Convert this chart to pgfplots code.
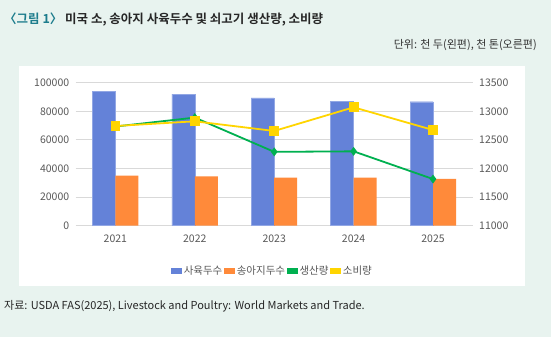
\documentclass[border=0pt]{standalone}
\usepackage{pgfplots}
\pgfplotsset{compat=1.18}
\usepackage{fontspec}
\setmainfont{Noto Sans CJK KR}[BoldFont={Noto Sans CJK KR Bold}]
\definecolor{bg}{HTML}{E8F3EF}
\definecolor{cblue}{HTML}{6482D8}
\definecolor{corange}{HTML}{FF8A3A}
\definecolor{cgreen}{HTML}{00B050}
\definecolor{cyellow}{HTML}{FFD500}
\definecolor{tgray}{HTML}{595959}
\definecolor{ggray}{HTML}{D9D9D9}
\definecolor{tteal}{HTML}{1C7C8C}
\pgfplotsset{numfmt/.style={/pgf/number format/fixed, /pgf/number format/1000 sep={}, /pgf/number format/assume math mode=true}}
\begin{document}
\begin{tikzpicture}[x=1pt,y=1pt]
\fill[bg] (0,0) rectangle (551,337);
\fill[white] (19,51) rectangle (525,271);
\coordinate (O) at (75.7,111.3);
\node[anchor=west, inner sep=0pt, font=\bfseries\fontsize{12.5}{14}\selectfont, text=black!85] at (4,317) {\textcolor{tteal}{〈그림 1〉} 미국 소, 송아지 사육두수 및 쇠고기 생산량, 소비량};
\node[anchor=east, inner sep=0pt, font=\fontsize{11}{13}\selectfont, text=black!80] at (537,291.5) {단위: 천 두(왼편), 천 톤(오른편)};
\node[anchor=west, inner sep=0pt, font=\fontsize{11}{13}\selectfont, text=black!85] at (4,30.5) {자료: USDA FAS(2025), Livestock and Poultry: World Markets and Trade.};
\begin{axis}[
  at={(O)}, anchor=south west, scale only axis,
  width=397pt, height=143pt,
  xmin=-0.5, xmax=4.5, ymin=0, ymax=100000,
  xtick={0,1,2,3,4}, xticklabels={2021,2022,2023,2024,2025},
  ytick={0,20000,40000,60000,80000,100000},
  scaled y ticks=false,
  numfmt,
  ymajorgrids, grid style={ggray, line width=0.8pt},
  axis line style={draw=none}, major tick length=0pt,
  ticklabel style={font=\fontsize{10.5}{12}\selectfont, text=tgray},
  xticklabel style={yshift=-6pt},
  yticklabel style={xshift=-3pt},
]
\addplot[ybar, bar width=23pt, bar shift=-11.5pt, fill=cblue, draw=cblue!70!white] coordinates {(0,93800) (1,92000) (2,89300) (3,87200) (4,86700)};
\addplot[ybar, bar width=23pt, bar shift=11.5pt, fill=corange, draw=none] coordinates {(0,35100) (1,34500) (2,33700) (3,33600) (4,32800)};
\end{axis}
\begin{axis}[
  at={(O)}, anchor=south west, scale only axis,
  width=397pt, height=143pt,
  xmin=-0.5, xmax=4.5, ymin=11000, ymax=13500,
  axis x line=none, axis y line*=right,
  ytick={11000,11500,12000,12500,13000,13500},
  scaled y ticks=false,
  numfmt,
  axis line style={draw=none}, major tick length=0pt,
  ticklabel style={font=\fontsize{10.5}{12}\selectfont, text=tgray},
  yticklabel style={xshift=3pt},
  legend style={at={(0.496,-0.315)}, anchor=center, draw=none, fill=none,
    font=\fontsize{10.5}{12}\selectfont, text=tgray, /tikz/every even column/.append style={column sep=0pt}, inner sep=0pt},
  legend columns=4, legend cell align=left,
]
\addlegendimage{legend image code/.code={\fill[cblue] (0pt,-2.5pt) rectangle (10pt,2.5pt);}}
\addlegendentry{사육두수}
\addlegendimage{legend image code/.code={\fill[corange] (0pt,-2.5pt) rectangle (10pt,2.5pt);}}
\addlegendentry{송아지두수}
\addlegendimage{legend image code/.code={\fill[cgreen] (0pt,-2.5pt) rectangle (10pt,2.5pt);}}
\addlegendentry{생산량}
\addlegendimage{legend image code/.code={\fill[cyellow] (0pt,-2.5pt) rectangle (10pt,2.5pt);}}
\addlegendentry{소비량}
\addplot[forget plot, color=cgreen, line width=1.8pt, mark=diamond*, mark size=3pt] coordinates {(0,12734) (1,12890) (2,12291) (3,12300) (4,11816)};
\addplot[forget plot, color=cyellow, line width=1.8pt, mark=square*, mark size=4pt] coordinates {(0,12743) (1,12825) (2,12656) (3,13070) (4,12673)};
\end{axis}
\end{tikzpicture}
\end{document}
